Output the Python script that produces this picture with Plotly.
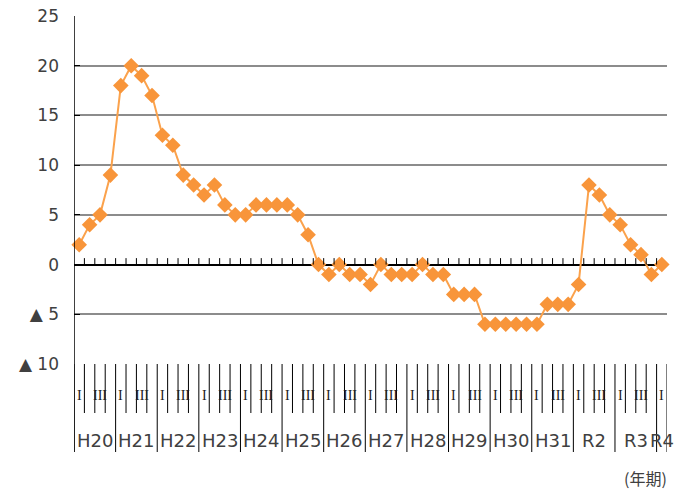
import plotly.graph_objects as go

# ---- data ----
years = ["H20", "H21", "H22", "H23", "H24", "H25", "H26", "H27", "H28",
         "H29", "H30", "H31", "R2", "R3", "R4"]
quarters_per_year = [4] * 14 + [1]
quarter_labels = ["I", "", "III", ""]
values = [2, 4, 5, 9,
          18, 20, 19, 17,
          13, 12, 9, 8,
          7, 8, 6, 5,
          5, 6, 6, 6,
          6, 5, 3, 0,
          -1, 0, -1, -1,
          -2, 0, -1, -1,
          -1, 0, -1, -1,
          -3, -3, -3, -6,
          -6, -6, -6, -6,
          -6, -4, -4, -4,
          -2, 8, 7, 5,
          4, 2, 1, -1,
          0]
y_tickvals = [-10, -5, 0, 5, 10, 15, 20, 25]
y_ticktext = ["▲ 10", "▲ 5", "0", "5", "10", "15", "20", "25"]

n = len(values)
x = list(range(n))

W, H = 674, 492
ML, MR, MT, MB = 74, 7, 16, 128
plot_h = H - MT - MB

def py(px_below):
    """paper y for a pixel distance below the plot bottom"""
    return -px_below / plot_h

FONT = "DejaVu Sans"
TXT = "#404040"

fig = go.Figure()
fig.add_trace(go.Scatter(
    x=x, y=values, mode="lines+markers",
    line=dict(color="#FBA24C", width=2),
    marker=dict(symbol="diamond", size=12, color="#F8953A"),
    cliponaxis=False, hoverinfo="skip",
))

shapes = []
annotations = []

# upward ticks on the zero line at each category boundary
for i in range(1, n):
    shapes.append(dict(type="line", xref="x", yref="y", x0=i - 0.5, x1=i - 0.5,
                       y0=0, y1=0.65, line=dict(color="black", width=1)))

# label table below the plot
pos = 0
for yi, (yr, nq) in enumerate(zip(years, quarters_per_year)):
    start = pos
    for q in range(nq):
        idx = pos + q
        if q > 0:
            shapes.append(dict(type="line", xref="x", yref="paper", x0=idx - 0.5, x1=idx - 0.5,
                               y0=0, y1=py(49), line=dict(color="black", width=1)))
        if quarter_labels[q]:
            annotations.append(dict(x=idx, y=py(31), xref="x", yref="paper",
                                    text=quarter_labels[q], showarrow=False,
                                    font=dict(family="Liberation Serif", size=14, color="#202020"),
                                    xanchor="center", yanchor="middle"))
    pos += nq
    # year boundary (long line)
    shapes.append(dict(type="line", xref="x", yref="paper", x0=start - 0.5, x1=start - 0.5,
                       y0=0, y1=py(88), line=dict(color="black", width=1)))
    annotations.append(dict(x=(start + pos - 1) / 2, y=py(76), xref="x", yref="paper",
                            text=yr, showarrow=False,
                            font=dict(family=FONT, size=18, color=TXT),
                            xanchor="center", yanchor="middle"))
# right edge line of label table
shapes.append(dict(type="line", xref="x", yref="paper", x0=n - 0.5, x1=n - 0.5,
                   y0=0, y1=py(88), line=dict(color="black", width=1)))
# left axis line (runs down through label table)
shapes.append(dict(type="line", xref="x", yref="paper", x0=-0.5, x1=-0.5,
                   y0=1, y1=py(88), line=dict(color="black", width=1.5)))

annotations.append(dict(x=1.003, y=py(114), xref="paper", yref="paper",
                        text="(年期)", showarrow=False,
                        font=dict(family="Noto Sans CJK JP", size=16, color=TXT),
                        xanchor="right", yanchor="middle"))
annotations.append(dict(x=-0.108, y=py(122), xref="paper", yref="paper",
                        text="資料：日本銀行「全国企業短期経済観測調査」", showarrow=False,
                        font=dict(family="Noto Sans CJK JP", size=13, color=TXT),
                        xanchor="left", yanchor="top"))

fig.update_layout(
    width=W, height=H,
    margin=dict(l=ML, r=MR, t=MT, b=MB),
    paper_bgcolor="white", plot_bgcolor="white",
    showlegend=False,
    shapes=shapes, annotations=annotations,
    xaxis=dict(range=[-0.5, n - 0.5], showticklabels=False, showgrid=False,
               zeroline=False, showline=False, ticks=""),
    yaxis=dict(range=[-10, 25], tickvals=y_tickvals, ticktext=y_ticktext,
               showgrid=True, gridcolor="#8C8C8C", gridwidth=2,
               zeroline=True, zerolinecolor="black", zerolinewidth=1.5,
               showline=False, ticks="inside", ticklen=6, tickcolor="black", tickwidth=1,
               ticklabelstandoff=14,
               tickfont=dict(family=FONT, size=17, color=TXT)),
)

fig.write_html("out.html", config={"displayModeBar": False},
               post_script="document.body.style.margin='0';")
